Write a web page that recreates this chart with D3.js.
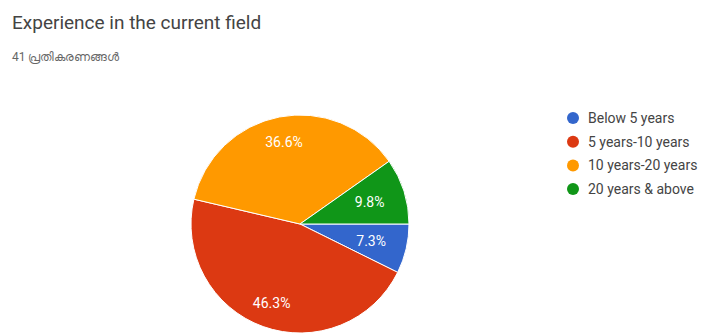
<!DOCTYPE html>
<html>
<head>
<meta charset="utf-8">
<script src="https://cdn.jsdelivr.net/npm/d3@7"></script>
<style>
  body { margin: 0; background: #fff; }
  svg { font-family: Roboto, Arial, sans-serif; }
</style>
</head>
<body>
<script>
// data (41 responses)
const categories = ['Below 5 years', '5 years-10 years', '10 years-20 years', '20 years & above']
const counts = [3, 19, 15, 4]
const colors = ['#3366cc', '#dc3912', '#ff9900', '#109618']

const width = 702
const height = 333
const cx = 300, cy = 224
const radius = 109

const svg = d3.select('body').append('svg')
      .attr('width', width)
      .attr('height', height)

svg.append('text')
  .attr('x', 12).attr('y', 29)
  .attr('font-size', 19)
  .attr('fill', '#444')
  .text('Experience in the current field')

svg.append('text')
  .attr('x', 12).attr('y', 61)
  .attr('font-size', 12)
  .attr('fill', '#666')
  .text('41 പ്രതികരണങ്ങൾ')

const total = d3.sum(counts)
const pie = d3.pie()
      .sort(null)
      .startAngle(Math.PI / 2)
      .endAngle(Math.PI / 2 + 2 * Math.PI)
      .value(function(d) { return d })
const arc = d3.arc().outerRadius(radius).innerRadius(0)
// small slices get their label pulled a bit further in
function labelPos(d) {
  const r = (d.endAngle - d.startAngle) < 0.8 ? radius * 0.67 : radius * 0.77
  return d3.arc().outerRadius(r).innerRadius(r).centroid(d)
}
const color = d3.scaleOrdinal().domain(categories).range(colors)

const g = svg.append('g')
  .attr('transform', 'translate(' + cx + ',' + cy + ')')

const slices = g.selectAll('.arc')
  .data(pie(counts))
  .enter().append('g')
  .attr('class', 'arc')

slices.append('path')
  .attr('d', arc)
  .attr('fill', function(d, i) { return color(categories[i]) })
  .attr('stroke', '#fff')
  .attr('stroke-width', 1)

slices.append('text')
  .attr('transform', function(d) { return 'translate(' + labelPos(d) + ')' })
  .attr('dy', '0.35em')
  .attr('text-anchor', 'middle')
  .attr('font-size', 14)
  .attr('fill', '#fff')
  .text(function(d) { return (d.value / total * 100).toFixed(1) + '%' })

const legend = svg.append('g')
  .attr('transform', 'translate(573,118)')

const item = legend.selectAll('g')
  .data(categories)
  .enter().append('g')
  .attr('transform', function(d, i) { return 'translate(0,' + i * 23.7 + ')' })

item.append('circle')
  .attr('r', 6)
  .attr('fill', function(d) { return color(d) })

item.append('text')
  .attr('x', 15)
  .attr('dy', '0.35em')
  .attr('font-size', 14)
  .attr('fill', '#444')
  .text(function(d) { return d })
</script>
</body>
</html>
